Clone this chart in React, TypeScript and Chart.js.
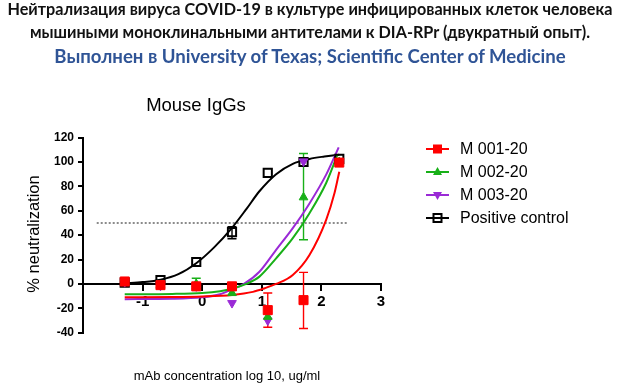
import React, { useEffect, useRef } from "react";
import { Chart, registerables } from "chart.js";

Chart.register(...registerables);

// ---- data ----
const headerLine1 = "Нейтрализация вируса COVID-19 в культуре инфицированных клеток человека";
const headerLine2 = "мышиными моноклинальными антителами к DIA-RPr (двукратный опыт).";
const headerLine3 = "Выполнен в University of Texas; Scientific Center of Medicine";
const chartTitle = "Mouse IgGs";
const xTitle = "mAb concentration log 10, ug/ml";
const yTitle = "% neutralization";

const seriesNames = ["M 001-20", "M 002-20", "M 003-20", "Positive control"];
const seriesColors = ["#ff0000", "#18b018", "#9a2ad6", "#000000"];

const doses = [-1.3, -0.7, -0.1, 0.5, 1.1, 1.7, 2.3];
const m001 = [2, -1, -2, -2, -21.5, -13.3, 99.5];
const m002 = [1.5, -1, 0, -7.5, -27, 71, 100];
const m003 = [1.5, -1.5, -2, -15.7, -30, 100.5, 100];
const control = [1, 3.2, 18, 42.5, 91, 100, 102.5];

// error bars
const m001ErrX = [1.1, 1.7];
const m001ErrLow = [-35.5, -36.5];
const m001ErrHigh = [-7.4, 9.5];
const m002ErrX = [-0.1, 1.7];
const m002ErrLow = [-4, 36.2];
const m002ErrHigh = [4.7, 107];
const controlErrX = [0.5];
const controlErrLow = [37];
const controlErrHigh = [47];

// fitted curves, points
const fit001X = [-1.3, -0.5, 0, 0.5, 0.85, 1.05, 1.24, 1.52, 1.8, 2.08, 2.22, 2.3];
const fit001Y = [-11, -10.8, -10.3, -9, -6.5, -3.5, 0, 7.4, 23.8, 52.6, 74.5, 92];
const fit002X = [-1.3, -0.5, 0, 0.3, 0.5, 0.74, 0.96, 1.24, 1.52, 1.8, 2.08, 2.27];
const fit002Y = [-8.4, -8.2, -7.5, -6, -4, 0, 6, 21, 37.5, 58, 82.8, 106];
const fit003X = [-1.3, -0.5, 0, 0.3, 0.5, 0.7, 0.96, 1.24, 1.52, 1.8, 2.08, 2.29];
const fit003Y = [-12.5, -12.2, -11, -8.5, -4.5, 0, 10, 28, 45.8, 66, 89.6, 112];
const fitCtrlX = [-1.3, -1.0, -0.7, -0.4, -0.1, 0.2, 0.5, 0.75, 0.96, 1.24, 1.52, 1.8, 2.05, 2.3];
const fitCtrlY = [0.5, 1.5, 3.5, 8, 17, 30, 46, 62, 76, 90, 98.5, 102.5, 104.5, 106];

const refLineX = [-1.77, 2.44];
const refLineY = [50, 50];

const xTicks = [-1, 0, 1, 2, 3];
const yTicks = [-40, -20, 0, 20, 40, 60, 80, 100, 120];

const pts = (xs: number[], ys: number[]) => xs.map((x, i) => ({ x, y: ys[i] }));

const errorSets = [
  { color: seriesColors[0], xs: m001ErrX, low: m001ErrLow, high: m001ErrHigh },
  { color: seriesColors[1], xs: m002ErrX, low: m002ErrLow, high: m002ErrHigh },
  { color: seriesColors[3], xs: controlErrX, low: controlErrLow, high: controlErrHigh },
];

const errorBarPlugin = {
  id: "errorBars",
  beforeDatasetsDraw(chart: any) {
    const { ctx } = chart;
    const x = chart.scales.x;
    const y = chart.scales.y;
    ctx.save();
    ctx.lineWidth = 1.4;
    errorSets.forEach((set) => {
      ctx.strokeStyle = set.color;
      set.xs.forEach((xv, i) => {
        const px = x.getPixelForValue(xv);
        const lo = y.getPixelForValue(set.low[i]);
        const hi = y.getPixelForValue(set.high[i]);
        ctx.beginPath();
        ctx.moveTo(px, lo);
        ctx.lineTo(px, hi);
        ctx.moveTo(px - 4.5, lo);
        ctx.lineTo(px + 4.5, lo);
        ctx.moveTo(px - 4.5, hi);
        ctx.lineTo(px + 4.5, hi);
        ctx.stroke();
      });
    });
    ctx.restore();
  },
};

const ARIAL = "'Liberation Sans', Arial, sans-serif";

function LegendIcon({ idx }: { idx: number }) {
  const c = seriesColors[idx];
  let marker: any = null;
  if (idx === 0) marker = <rect x={7} y={5.5} width={9} height={9} fill={c} />;
  if (idx === 1) marker = <polygon points="11.5,5 16,13 7,13" fill={c} />;
  if (idx === 2) marker = <polygon points="11.5,15 16,7 7,7" fill={c} />;
  if (idx === 3)
    marker = <rect x={7.5} y={6} width={8} height={8} fill="none" stroke={c} strokeWidth={2} />;
  return (
    <svg width={23} height={20} style={{ position: "absolute", left: 0, top: 0 }}>
      <line x1={0} y1={10} x2={23} y2={10} stroke={c} strokeWidth={2} />
      {marker}
    </svg>
  );
}

export default function App() {
  const ref = useRef<HTMLCanvasElement | null>(null);

  useEffect(() => {
    if (!ref.current) return;
    const axisFontX = { family: ARIAL, size: 15, weight: "bold" as const };
    const axisFontY = { family: ARIAL, size: 12, weight: "bold" as const };
    const markerBase = { showLine: false, borderWidth: 1 };
    const curveBase = {
      pointRadius: 0,
      borderWidth: 2,
      cubicInterpolationMode: "monotone" as const,
      fill: false,
    };
    const chart = new Chart(ref.current, {
      type: "line",
      data: {
        datasets: [
          {
            ...markerBase,
            label: seriesNames[0],
            data: pts(doses, m001),
            pointStyle: "rect",
            pointRadius: 6.4,
            backgroundColor: seriesColors[0],
            borderColor: seriesColors[0],
            order: 0,
          },
          {
            ...markerBase,
            label: seriesNames[1],
            data: pts(doses, m002),
            pointStyle: "triangle",
            pointRadius: 5,
            backgroundColor: seriesColors[1],
            borderColor: seriesColors[1],
            order: 1,
          },
          {
            ...markerBase,
            label: seriesNames[2],
            data: pts(doses, m003),
            pointStyle: "triangle",
            rotation: 180,
            pointRadius: 5,
            backgroundColor: seriesColors[2],
            borderColor: seriesColors[2],
            order: 2,
          },
          {
            ...markerBase,
            label: seriesNames[3],
            data: pts(doses, control),
            pointStyle: "rect",
            pointRadius: 5.8,
            borderWidth: 2,
            backgroundColor: "rgba(0,0,0,0)",
            borderColor: seriesColors[3],
            order: 3,
          },
          {
            ...curveBase,
            label: "fit1",
            data: pts(fit001X, fit001Y),
            borderColor: seriesColors[0],
            order: 4,
          },
          {
            ...curveBase,
            label: "fit2",
            data: pts(fit002X, fit002Y),
            borderColor: seriesColors[1],
            order: 5,
          },
          {
            ...curveBase,
            label: "fit3",
            data: pts(fit003X, fit003Y),
            borderColor: seriesColors[2],
            order: 6,
          },
          {
            ...curveBase,
            label: "fitc",
            data: pts(fitCtrlX, fitCtrlY),
            borderColor: seriesColors[3],
            order: 7,
          },
          {
            label: "ref",
            data: pts(refLineX, refLineY),
            pointRadius: 0,
            borderWidth: 1.4,
            borderColor: "#666666",
            borderDash: [2, 2],
            order: 8,
          },
        ],
      },
      options: {
        animation: false,
        responsive: false,
        maintainAspectRatio: false,
        layout: { padding: { left: 43, top: 137.6, right: 239, bottom: 56.3 } },
        plugins: {
          legend: { display: false },
          tooltip: { enabled: false },
          title: { display: false },
        },
        scales: {
          x: {
            type: "linear",
            min: -2,
            max: 3,
            position: { y: 0 } as any,
            afterBuildTicks: (s: any) => {
              s.ticks = xTicks.map((v) => ({ value: v }));
            },
            grid: {
              display: true,
              drawOnChartArea: false,
              drawTicks: true,
              tickLength: 6,
              color: "#000",
              lineWidth: 2,
            },
            border: { display: true, color: "#000", width: 2 },
            ticks: {
              color: "#000",
              font: axisFontX,
              padding: 3,
              maxRotation: 0,
              autoSkip: false,
            },
          },
          y: {
            type: "linear",
            min: -40,
            max: 120,
            position: "left",
            afterBuildTicks: (s: any) => {
              s.ticks = yTicks.map((v) => ({ value: v }));
            },
            afterFit: (s: any) => {
              s.width = 40;
            },
            grid: {
              display: true,
              drawOnChartArea: false,
              drawTicks: true,
              tickLength: 5,
              color: "#000",
              lineWidth: 2,
            },
            border: { display: true, color: "#000", width: 2 },
            ticks: { color: "#000", font: axisFontY, padding: 4, autoSkip: false },
          },
        },
      },
      plugins: [errorBarPlugin],
    });
    return () => chart.destroy();
  }, []);

  const headerBase: any = {
    position: "absolute",
    left: 0,
    width: 620,
    textAlign: "center",
    fontFamily: "Lato, 'Open Sans', sans-serif",
    fontWeight: 700,
    whiteSpace: "nowrap",
  };

  const legendTops = [139.2, 162.1, 184.8, 207.6];

  return (
    <div
      style={{
        position: "absolute",
        left: 0,
        top: 0,
        width: 620,
        height: 389,
        background: "#fff",
        overflow: "hidden",
      }}
    >
      <canvas
        ref={ref}
        width={620}
        height={389}
        style={{ position: "absolute", left: 0, top: 0, width: 620, height: 389 }}
      />
      <div style={{ ...headerBase, top: -1.3, fontSize: 16.2, lineHeight: "20px", color: "#111" }}>
        {headerLine1}
      </div>
      <div style={{ ...headerBase, top: 22, fontSize: 16.2, lineHeight: "20px", color: "#111" }}>
        {headerLine2}
      </div>
      <div style={{ ...headerBase, top: 44.5, fontSize: 18.6, lineHeight: "22px", color: "#2f5496" }}>
        {headerLine3}
      </div>
      <div
        style={{
          position: "absolute",
          left: 96,
          top: 94.8,
          width: 200,
          textAlign: "center",
          fontFamily: ARIAL,
          fontSize: 18.5,
          lineHeight: "20px",
          color: "#000",
        }}
      >
        {chartTitle}
      </div>
      <div
        style={{
          position: "absolute",
          left: 32.5 - 90,
          top: 234 - 10,
          width: 180,
          height: 20,
          lineHeight: "20px",
          textAlign: "center",
          fontFamily: ARIAL,
          fontSize: 16.5,
          color: "#000",
          transform: "rotate(-90deg)",
          transformOrigin: "50% 50%",
          whiteSpace: "nowrap",
        }}
      >
        {yTitle}
      </div>
      <div
        style={{
          position: "absolute",
          left: 227 - 150,
          top: 367.5,
          width: 300,
          textAlign: "center",
          fontFamily: ARIAL,
          fontSize: 13,
          lineHeight: "16px",
          color: "#000",
          whiteSpace: "nowrap",
        }}
      >
        {xTitle}
      </div>
      {seriesNames.map((name, i) => (
        <div
          key={name}
          style={{
            position: "absolute",
            left: 426,
            top: legendTops[i],
            height: 20,
            width: 190,
          }}
        >
          <LegendIcon idx={i} />
          <span
            style={{
              position: "absolute",
              left: 34,
              top: 0,
              fontFamily: ARIAL,
              fontSize: 16,
              lineHeight: "20px",
              color: "#000",
              whiteSpace: "nowrap",
            }}
          >
            {name}
          </span>
        </div>
      ))}
    </div>
  );
}
